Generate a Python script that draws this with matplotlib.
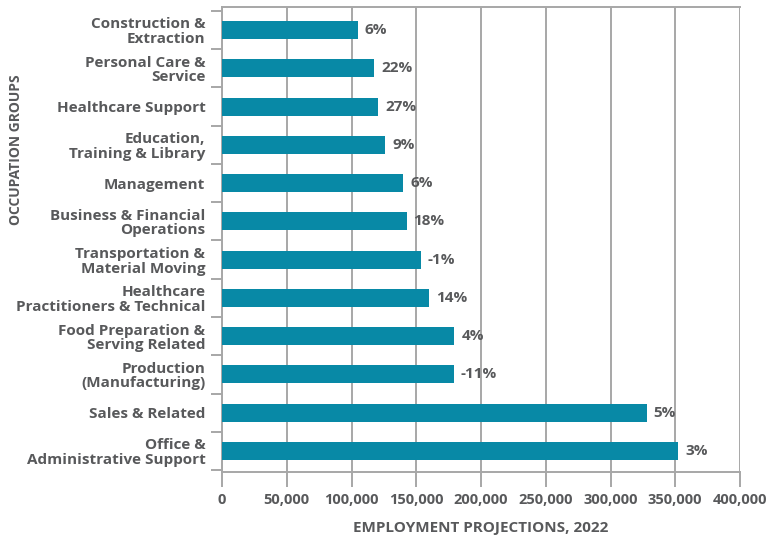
import numpy as np
import matplotlib
matplotlib.use("Agg")
import matplotlib.pyplot as plt
from matplotlib.ticker import FuncFormatter, FixedLocator

# ------------------------------------------------------------
# Data (top to bottom)
# ------------------------------------------------------------
groups = [
    "Construction &\nExtraction",
    "Personal Care &\nService",
    "Healthcare Support",
    "Education,\nTraining & Library",
    "Management",
    "Business & Financial\nOperations",
    "Transportation &\nMaterial Moving",
    "Healthcare\nPractitioners & Technical",
    "Food Preparation &\nServing Related",
    "Production\n(Manufacturing)",
    "Sales & Related",
    "Office &\nAdministrative Support",
]
employment = [105000, 117500, 120500, 126000, 140000, 142500,
              153500, 160000, 179500, 179000, 328000, 352500]
growth = ["6%", "22%", "27%", "9%", "6%", "18%",
          "-1%", "14%", "4%", "-11%", "5%", "3%"]

x_ticks = [0, 50000, 100000, 150000, 200000, 250000, 300000, 350000, 400000]

BAR = "#0889a6"
TXT = "#58595b"
GRID = "#a7a7a7"


def main():
    plt.rcParams["font.family"] = ["Open Sans", "DejaVu Sans"]
    plt.rcParams["font.weight"] = "bold"

    fig = plt.figure(figsize=(7.7, 5.38), dpi=100)
    # axes box: x 222..740 px, y 7..472 px
    ax = fig.add_axes([222 / 770, 1 - 472 / 538, 518 / 770, 465 / 538])

    y = np.arange(len(groups))
    ax.barh(y, employment, height=0.47, color=BAR, zorder=3)

    # value labels
    for yi, v, g in zip(y, employment, growth):
        ax.annotate(g, (v, yi), xytext=(5, 0), textcoords="offset points",
                    va="center", ha="left", fontsize=11,
                    fontweight="bold", color=TXT)

    ax.set_xlim(0, 400000)
    ax.set_ylim(len(groups) - 0.45, -0.6)

    # x axis
    ax.xaxis.set_major_locator(FixedLocator(x_ticks))
    ax.xaxis.set_major_formatter(FuncFormatter(lambda v, p: f"{int(v):,}"))
    ax.grid(axis="x", color=GRID, linewidth=1.4, zorder=0)
    ax.tick_params(axis="x", length=11, width=1.4, color=GRID,
                   labelsize=10.5, labelcolor=TXT, pad=4)

    # y axis: labels at centers, ticks at category boundaries
    ax.set_yticks(y)
    ax.set_yticklabels(groups, fontsize=11, fontweight="bold",
                       color=TXT, linespacing=1.05, ha="right",
                       multialignment="right")
    ax.tick_params(axis="y", which="major", length=0, pad=12)
    ax.yaxis.set_minor_locator(FixedLocator(np.arange(-0.5, len(groups), 1.0)))
    ax.tick_params(axis="y", which="minor", length=8, width=1.4, color=GRID)

    for s in ["top", "bottom", "left", "right"]:
        ax.spines[s].set_color(GRID)
        ax.spines[s].set_linewidth(1.4)
    ax.spines["right"].set_visible(False)

    for lab in ax.get_xticklabels():
        lab.set_fontweight("bold")

    ax.set_xlabel("EMPLOYMENT PROJECTIONS, 2022", fontsize=11,
                  fontweight="bold", color=TXT, labelpad=10)
    fig.text(16 / 770, 1 - 150 / 538, "OCCUPATION GROUPS", rotation=90,
             ha="center", va="center", fontsize=10, fontweight="bold",
             color=TXT)

    fig.savefig("out.png", dpi=100)
    plt.close(fig)


if __name__ == "__main__":
    main()
